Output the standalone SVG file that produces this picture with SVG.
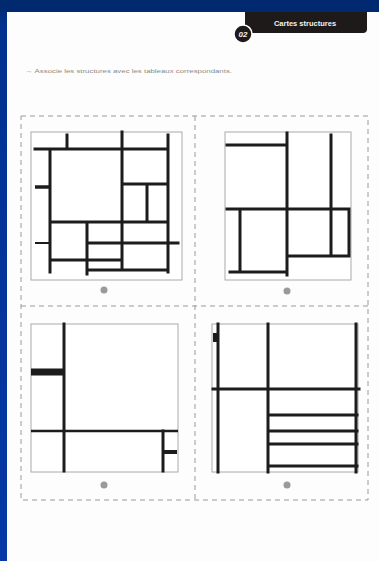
<svg xmlns="http://www.w3.org/2000/svg" width="379" height="561" viewBox="0 0 379 561">
<defs>
<linearGradient id="bg" x1="0" y1="0" x2="0" y2="1">
<stop offset="0" stop-color="#002a74"/>
<stop offset="0.05" stop-color="#00318f"/>
<stop offset="1" stop-color="#0638a6"/>
</linearGradient>
<style>
.frame{fill:#fff;stroke:#aaaaaa;stroke-width:1}
.b{stroke:#1c1c1c;stroke-width:3;fill:none;stroke-linecap:square}
.t{stroke:#1c1c1c;stroke-width:2.5;fill:none}
.dash{stroke:#9a9a9a;stroke-width:1;stroke-dasharray:5,4;fill:none}
.dot{fill:#9a9a9a}
</style>
</defs>
<rect x="0" y="0" width="379" height="561" fill="url(#bg)"/>
<rect x="0" y="0" width="379" height="12" fill="#00296f"/>
<rect x="7" y="12" width="372" height="549" fill="#fdfdfd"/>

<g id="header">
<path d="M245 12 H367 V29 Q367 33 363 33 H249 Q245 33 245 29 Z" fill="#1f1a1a"/>
<text x="305" y="26" font-family="Liberation Sans, sans-serif" font-size="7.5" font-weight="bold" fill="#f2f2f2" text-anchor="middle">Cartes structures</text>
<circle cx="243" cy="34" r="9" fill="#1f1a1a" stroke="#fdfdfd" stroke-width="1.5"/>
<text x="243" y="37" font-family="Liberation Sans, sans-serif" font-size="8" font-weight="bold" font-style="italic" fill="#f2f2f2" text-anchor="middle">02</text>
</g>

<g id="instruction">
<text x="25" y="73" font-family="Liberation Sans, sans-serif" font-size="6" fill="#8a8a8a" textLength="207" lengthAdjust="spacingAndGlyphs">→ Associe les structures avec les tableaux correspondants.</text>
</g>

<g id="grid">
<rect class="dash" x="21" y="116" width="347" height="384"/>
<line class="dash" x1="195" y1="116" x2="195" y2="500"/>
<line class="dash" x1="21" y1="306" x2="368" y2="306"/>
</g>

<g id="panel1">
<rect class="frame" x="31" y="132" width="151" height="148"/>
<path class="b" d="M35 149 H168 M67 135 V149 M50 149 V272 M122 132 V270 M168 135 V272 M123 184 H168 M147 184 V222 M50 222 H168 M87 222 V274 M87 243 H178 M50 260 H122 M87 270 H168"/>
<path d="M35 187 H50" stroke="#1c1c1c" stroke-width="3.5"/>
<path d="M35 243 H50" stroke="#1c1c1c" stroke-width="2"/>
<circle class="dot" cx="104" cy="290" r="3.5"/>
</g>

<g id="panel2">
<rect class="frame" x="225" y="132" width="126" height="148"/>
<path class="b" d="M227 145 H287 M287 133 V275 M331 135 V255 M227 209 H349 M349 209 V256 M287 256 H349 M240 209 V272 M230 272 H287"/>
<circle class="dot" cx="287" cy="291" r="3.5"/>
</g>

<g id="panel3">
<rect class="frame" x="31" y="324" width="147" height="148"/>
<path class="b" d="M64 324 V471"/>
<path d="M31 372 H64" stroke="#1c1c1c" stroke-width="7"/>
<path class="t" d="M31 431 H178"/>
<path class="b" d="M163 431 V471"/>
<path d="M163 452 H177" stroke="#1c1c1c" stroke-width="4"/>
<circle class="dot" cx="104" cy="485" r="3.5"/>
</g>

<g id="panel4">
<rect class="frame" x="212" y="324" width="146" height="148"/>
<path class="b" d="M218 324 V472 M268 324 V472 M356 324 V472 M213 389 H359 M268 415 H357 M268 431 H357 M268 444 H357 M268 466 H357"/>
<rect x="213" y="333" width="5" height="9" fill="#1c1c1c"/>
<circle class="dot" cx="287" cy="485" r="3.5"/>
</g>
</svg>
